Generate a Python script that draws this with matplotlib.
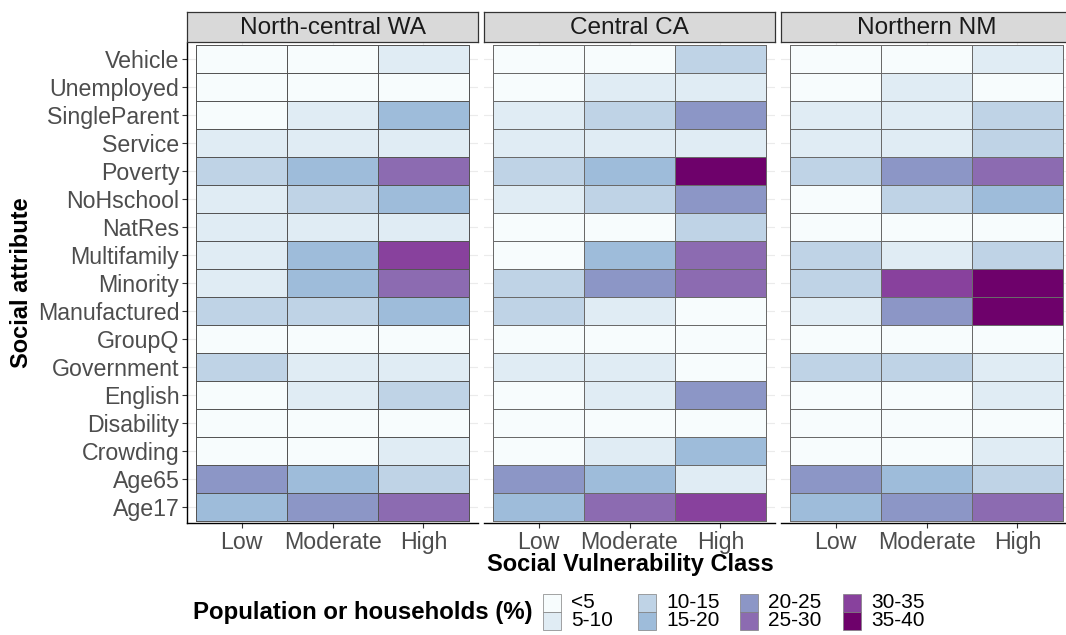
import numpy as np
import matplotlib
matplotlib.use("Agg")
import matplotlib.pyplot as plt
from matplotlib.colors import ListedColormap, BoundaryNorm
from matplotlib.patches import Rectangle

plt.rcParams['font.family'] = ['Liberation Sans', 'DejaVu Sans']

# ---------------- data ----------------
attributes = ["Vehicle", "Unemployed", "SingleParent", "Service", "Poverty",
              "NoHschool", "NatRes", "Multifamily", "Minority", "Manufactured",
              "GroupQ", "Government", "English", "Disability", "Crowding",
              "Age65", "Age17"]          # top to bottom
classes = ["Low", "Moderate", "High"]
regions = ["North-central WA", "Central CA", "Northern NM"]

# estimated percentages (class midpoints), same order as attributes
wa_low  = [2.5, 2.5, 2.5, 7.5, 12.5, 7.5, 7.5, 7.5, 7.5, 12.5, 2.5, 12.5, 2.5, 2.5, 2.5, 22.5, 17.5]
wa_mod  = [2.5, 2.5, 7.5, 7.5, 17.5, 12.5, 7.5, 17.5, 17.5, 12.5, 2.5, 7.5, 7.5, 2.5, 2.5, 17.5, 22.5]
wa_high = [7.5, 2.5, 17.5, 7.5, 27.5, 17.5, 7.5, 32.5, 27.5, 17.5, 2.5, 7.5, 12.5, 2.5, 7.5, 12.5, 27.5]

ca_low  = [2.5, 2.5, 7.5, 7.5, 12.5, 7.5, 2.5, 2.5, 12.5, 12.5, 2.5, 7.5, 2.5, 2.5, 2.5, 22.5, 17.5]
ca_mod  = [2.5, 7.5, 12.5, 7.5, 17.5, 12.5, 2.5, 17.5, 22.5, 7.5, 2.5, 7.5, 7.5, 2.5, 7.5, 17.5, 27.5]
ca_high = [12.5, 7.5, 22.5, 7.5, 37.5, 22.5, 12.5, 27.5, 27.5, 2.5, 2.5, 2.5, 22.5, 2.5, 17.5, 7.5, 32.5]

nm_low  = [2.5, 2.5, 7.5, 7.5, 12.5, 2.5, 2.5, 12.5, 12.5, 7.5, 2.5, 12.5, 2.5, 2.5, 2.5, 22.5, 17.5]
nm_mod  = [2.5, 7.5, 7.5, 7.5, 22.5, 12.5, 2.5, 7.5, 32.5, 22.5, 2.5, 12.5, 2.5, 2.5, 2.5, 17.5, 22.5]
nm_high = [7.5, 2.5, 12.5, 12.5, 27.5, 17.5, 2.5, 12.5, 37.5, 37.5, 2.5, 7.5, 7.5, 2.5, 7.5, 12.5, 27.5]

bin_edges = [0, 5, 10, 15, 20, 25, 30, 35, 40]
bin_labels = ["<5", "5-10", "10-15", "15-20", "20-25", "25-30", "30-35", "35-40"]
palette = ["#f7fcfd", "#e0ecf4", "#bfd3e6", "#9ebcda",
           "#8c96c6", "#8c6bb1", "#88419d", "#6e016b"]

region_data = [
    [wa_low, wa_mod, wa_high],
    [ca_low, ca_mod, ca_high],
    [nm_low, nm_mod, nm_high],
]

# ---------------- layout ----------------
W, H = 1066, 635
fig = plt.figure(figsize=(W / 100, H / 100), dpi=100)

def rect(x0, y0, x1, y1):
    return [x0 / W, 1 - y1 / H, (x1 - x0) / W, (y1 - y0) / H]

cmap = ListedColormap(palette)
norm = BoundaryNorm(bin_edges, cmap.N)

panel_x = [(187, 478), (484, 775), (781, 1072)]
panel_y = (43, 523)
strip_y = (12, 42)
TXT = 16.7
tick_col = "#4d4d4d"
edge_cols = ["#555555", "#6a6a6a", "#6a6a6a"]

n = len(attributes)
for i, (reg, (x0, x1)) in enumerate(zip(regions, panel_x)):
    ax = fig.add_axes(rect(x0, panel_y[0], x1, panel_y[1]))
    Z = np.array(region_data[i]).T[::-1]   # rows bottom->top
    xe = np.arange(len(classes) + 1) + 0.5
    ye = np.arange(n + 1) + 0.5
    ax.pcolormesh(xe, ye, Z, cmap=cmap, norm=norm,
                  edgecolors=edge_cols[i], linewidth=0.5, zorder=2)
    ax.set_xlim(0.4, 3.6)
    ax.set_ylim(0.43, n + 0.57)
    ax.set_xticks(np.arange(1, len(classes) + 1))
    ax.set_xticklabels(classes, fontsize=TXT, color=tick_col)
    ax.set_yticks(np.arange(1, n + 1))
    ax.grid(True, color="#ebebeb", linewidth=0.8, zorder=0)
    ax.set_axisbelow(True)
    for s in ["top", "right"]:
        ax.spines[s].set_visible(False)
    ax.spines["bottom"].set_color("black")
    ax.spines["bottom"].set_linewidth(1.0)
    ax.tick_params(axis="x", length=3.5, width=0.8, color="#333333", pad=2)
    if i == 0:
        ax.set_yticklabels(attributes[::-1], fontsize=TXT, color=tick_col)
        ax.spines["left"].set_color("black")
        ax.spines["left"].set_linewidth(1.0)
        ax.tick_params(axis="y", length=3.5, width=0.8, color="#333333", pad=2)
    else:
        ax.spines["left"].set_visible(False)
        ax.tick_params(axis="y", length=0, labelleft=False)

    # strip
    sx = fig.add_axes(rect(x0, strip_y[0], x1, strip_y[1]))
    sx.set_xlim(0, 1); sx.set_ylim(0, 1)
    sx.set_facecolor("#d9d9d9")
    for s in sx.spines.values():
        s.set_color("#333333"); s.set_linewidth(0.9)
    sx.set_xticks([]); sx.set_yticks([])
    sx.text(0.5, 0.48, reg, ha="center", va="center", fontsize=17.6, color="#1a1a1a")

fig.text(630 / W, 1 - 564 / H, "Social Vulnerability Class", ha="center", va="center",
         fontsize=17, fontweight="bold", color="black")
fig.text(22 / W, 1 - 283 / H, "Social attribute", ha="center", va="center",
         rotation=90, fontsize=17, fontweight="bold", color="black")

# ---------------- legend ----------------
lg = fig.add_axes([0, 0, 1, 1], zorder=-1)
lg.set_xlim(0, W); lg.set_ylim(H, 0); lg.axis("off")
lg.text(193, 613, "Population or households (%)", ha="left", va="center",
        fontsize=17.3, fontweight="bold", color="black")
col_x = [543, 638, 740, 843]
row_y = [594, 612]
kw, kh = 18, 18
for k, (lab, colr) in enumerate(zip(bin_labels, palette)):
    c, r = divmod(k, 2)
    lg.add_patch(Rectangle((col_x[c], row_y[r]), kw, kh, facecolor=colr,
                           edgecolor="#7f7f7f", linewidth=0.5))
    lg.text(col_x[c] + kw + 10, row_y[r] + kh / 2, lab, ha="left", va="center",
            fontsize=15, color="black")

fig.savefig("out.png", dpi=100)
